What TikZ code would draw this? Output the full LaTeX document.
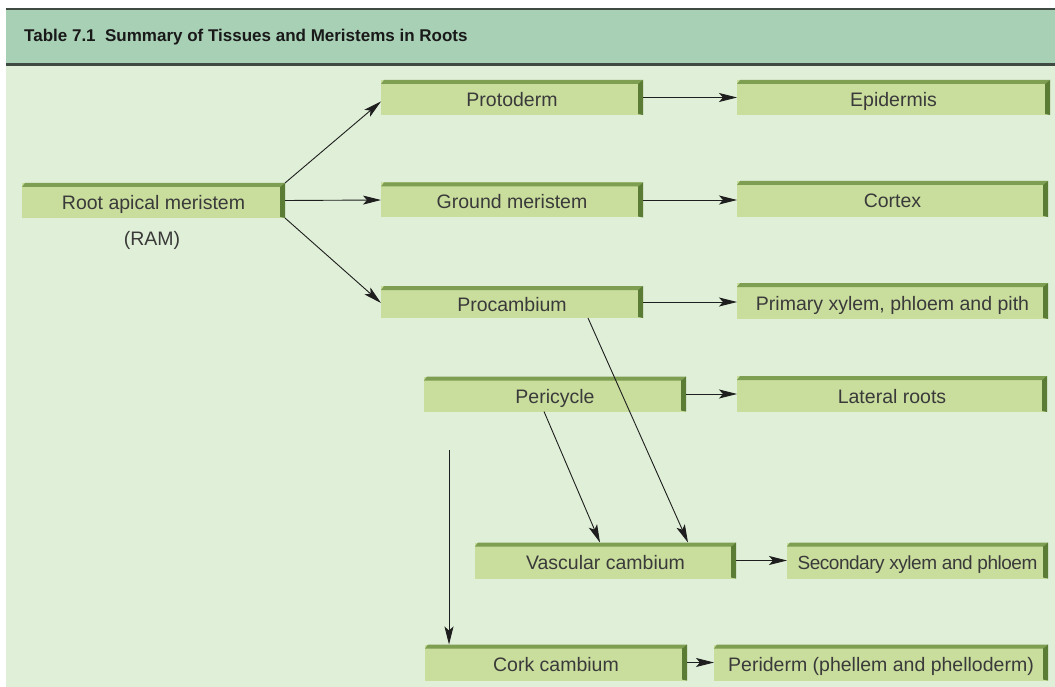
\documentclass[tikz,border=0pt]{standalone}
\usepackage{fontspec}
\setmainfont{Liberation Sans}
\usetikzlibrary{calc,arrows.meta}
\definecolor{bgc}{HTML}{E0EFD7}
\definecolor{headc}{HTML}{A8D0B5}
\definecolor{rulec}{HTML}{3F4A42}
\definecolor{facec}{HTML}{C9DD9D}
\definecolor{topc}{HTML}{7E9E52}
\definecolor{sidec}{HTML}{5A7C34}
\definecolor{txtc}{HTML}{3A3A3A}
\definecolor{arrc}{HTML}{1E1E1E}
\tikzset{
  gbox/.style={rectangle, fill=facec, inner sep=0pt, outer sep=0pt,
    text=txtc, font=\fontsize{19.5}{23}\selectfont, text height=20pt, text depth=2pt,
    path picture={
      \fill[topc] ([xshift=3pt]path picture bounding box.north west)
        -- (path picture bounding box.north east)
        -- ([xshift=-5pt,yshift=-4pt]path picture bounding box.north east)
        -- ([yshift=-4pt]path picture bounding box.north west) -- cycle;
      \fill[sidec] (path picture bounding box.north east)
        -- (path picture bounding box.south east)
        -- ([xshift=-5pt,yshift=1pt]path picture bounding box.south east)
        -- ([xshift=-5pt,yshift=-4pt]path picture bounding box.north east) -- cycle;
    }},
  conn/.style={draw=arrc, line width=0.9pt, -{Stealth[length=18pt,width=9pt,inset=4pt]}},
  plain/.style={text=txtc, font=\fontsize{19.5}{23}\selectfont, inner sep=0pt}
}
\begin{document}
\begin{tikzpicture}[x=1pt,y=-1pt]
\useasboundingbox[fill=white] (0,0) rectangle (1055,687);
% background and header
\fill[bgc] (6,65) rectangle (1055,687);
\fill[headc] (6,9) rectangle (1055,65);
\fill[rulec] (6,8) rectangle (1055,10.5);
\fill[rulec] (6,63.5) rectangle (1055,66);
\node[anchor=west, inner sep=0pt, text=black!90, font=\bfseries\fontsize{17}{20}\selectfont] (title) at (24,37) {Table 7.1\ \ Summary of Tissues and Meristems in Roots};
% boxes
\node[gbox, minimum width=263pt, minimum height=35pt] (ram) at (153.5,200.5) {Root apical meristem};
\node[plain] (ramlbl) at (152,240) {(RAM)};
\node[gbox, minimum width=262pt, minimum height=35pt] (proto) at (512,97.5) {Protoderm};
\node[gbox, minimum width=262pt, minimum height=35pt] (ground) at (512,200) {Ground meristem};
\node[gbox, minimum width=262pt, minimum height=32pt] (procamb) at (512,302) {Procambium};
\node[gbox, minimum width=313pt, minimum height=35pt] (epi) at (893.5,97.5) {Epidermis};
\node[gbox, minimum width=311pt, minimum height=36pt] (cortex) at (892.5,199) {Cortex};
\node[gbox, minimum width=311pt, minimum height=36pt] (prim) at (892.5,301) {Primary xylem, phloem and pith};
\node[gbox, minimum width=262pt, minimum height=35pt] (peri) at (555,394) {Pericycle};
\node[gbox, minimum width=310pt, minimum height=36pt] (lat) at (892,394) {Lateral roots};
\node[gbox, minimum width=261pt, minimum height=36pt] (vasc) at (605.5,560.5) {Vascular cambium};
\node[gbox, minimum width=261pt, minimum height=36pt, font=\fontsize{19}{23}\selectfont] (sec) at (917.5,560.5) {\addfontfeature{LetterSpace=-2.5}Secondary xylem and phloem};
\node[gbox, minimum width=262pt, minimum height=36pt] (cork) at (556,662.5) {Cork cambium};
\node[gbox, minimum width=334pt, minimum height=36pt] (peride) at (881,662.5) {Periderm (phellem and phelloderm)};
\coordinate (vtop) at (449,450);
% connectors
\draw[conn] (ram.north east) -- ($(proto.west)+(0,4)$);
\draw[conn] (ram.east) -- (ground.west);
\draw[conn] (ram.south east) -- ($(procamb.west)+(0,1)$);
\draw[conn] (proto.east) -- (epi.west);
\draw[conn] (ground.east) -- (cortex.west |- ground.east);
\draw[conn] (procamb.east) -- (prim.west |- procamb.east);
\draw[conn] (peri.east) -- (lat.west);
\draw[conn] ($(procamb.south west)+(207,0)$) -- ($(vasc.north west)+(213,0)$);
\draw[conn] ($(peri.south west)+(120,0)$) -- ($(vasc.north west)+(125,0)$);
\draw[conn] (vasc.east) -- (sec.west);
\draw[conn] (vtop) -- (vtop |- cork.north);
\draw[conn] (cork.east) -- (peride.west);
\end{tikzpicture}
\end{document}
